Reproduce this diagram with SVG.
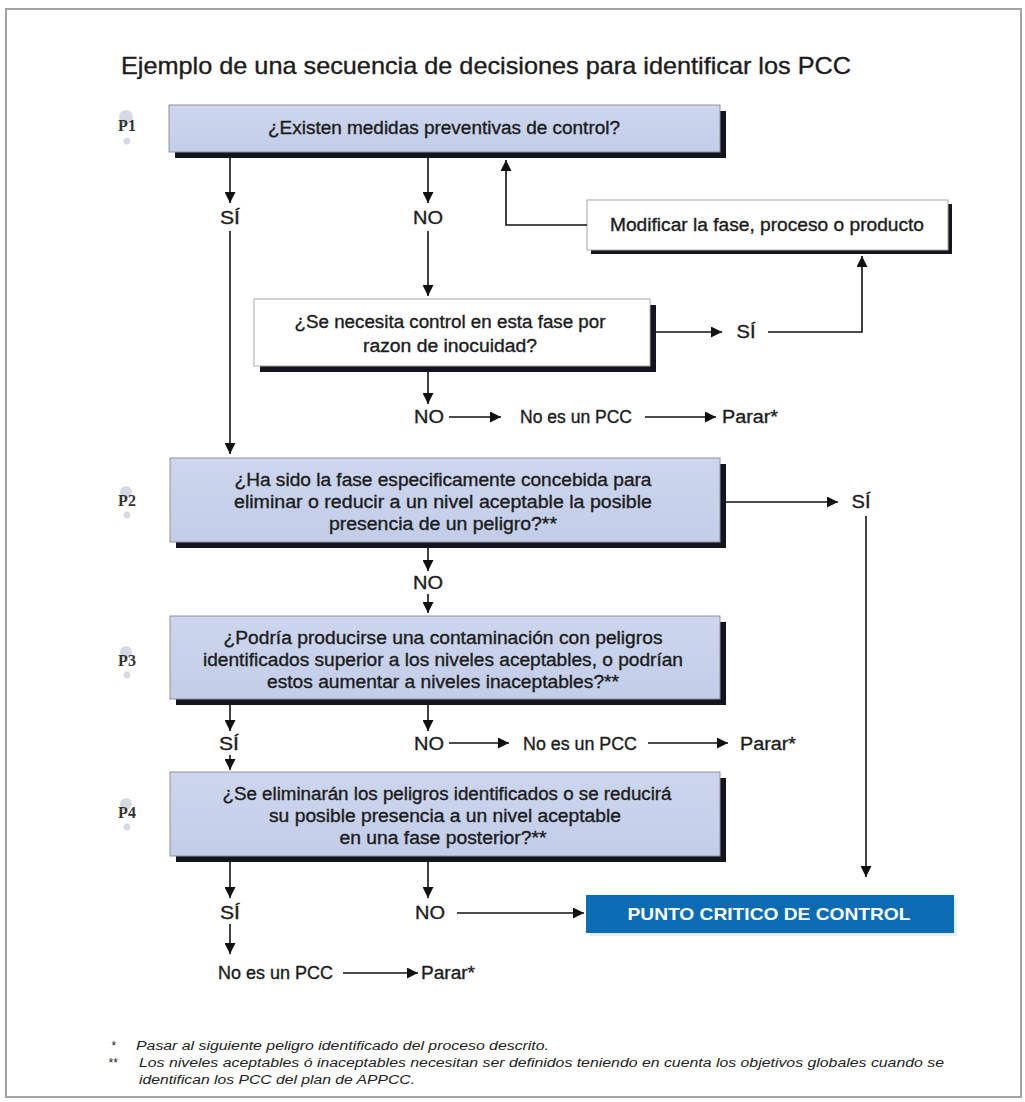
<svg xmlns="http://www.w3.org/2000/svg" width="1025" height="1102" viewBox="0 0 1025 1102">
<defs>
<marker id="ah" viewBox="0 0 10 10" refX="10" refY="5" markerWidth="11" markerHeight="11" markerUnits="userSpaceOnUse" orient="auto"><path d="M0,0 L10,5 L0,10 z" fill="#111"/></marker>
<linearGradient id="blue" x1="0" y1="0" x2="0" y2="1"><stop offset="0" stop-color="#cdd6ee"/><stop offset="1" stop-color="#c2cde8"/></linearGradient>
</defs>
<style>
.t{font-family:"Liberation Sans",Arial,sans-serif;fill:#1c1c1c;stroke:#1c1c1c;stroke-width:0.35;font-size:18px}
.c{text-anchor:middle}
.lbl{font-family:"Liberation Serif","Times New Roman",serif;font-weight:bold;font-size:16px;fill:#333}
.q{fill:url(#blue);stroke:#8e939c;stroke-width:1}
.w{fill:#fff;stroke:#a8a8a8;stroke-width:1}
.sh{fill:#15151c}
.ln{stroke:#111;stroke-width:1.6;fill:none}
.ar{marker-end:url(#ah)}
.fn{font-family:"Liberation Sans",Arial,sans-serif;font-style:italic;font-size:12px;fill:#222}
.dot{fill:#d6dae4}
</style>
<rect x="6" y="9" width="1015" height="1088" fill="#fff" stroke="#a3a3a3" stroke-width="2"/>
<text class="t" x="121" y="74" style="font-size:24px" textLength="730" lengthAdjust="spacingAndGlyphs">Ejemplo de una secuencia de decisiones para identificar los PCC</text>

<g id="labels">
<circle class="dot" cx="126" cy="117" r="7"/><circle class="dot" cx="127" cy="141" r="3.5"/>
<text class="lbl" x="127" y="131" text-anchor="middle">P1</text>
<circle class="dot" cx="126" cy="492" r="6"/><circle class="dot" cx="127" cy="515" r="3.5"/>
<text class="lbl" x="127" y="506" text-anchor="middle">P2</text>
<circle class="dot" cx="126" cy="652" r="6"/><circle class="dot" cx="127" cy="675" r="3.5"/>
<text class="lbl" x="127" y="666" text-anchor="middle">P3</text>
<circle class="dot" cx="126" cy="804" r="6"/><circle class="dot" cx="127" cy="827" r="3.5"/>
<text class="lbl" x="127" y="818" text-anchor="middle">P4</text>
</g>

<g id="p1">
<rect class="sh" x="175" y="111" width="551" height="47"/>
<rect class="q" x="169" y="105" width="551" height="47"/>
<text class="t c" x="444" y="134" textLength="352" lengthAdjust="spacingAndGlyphs">¿Existen medidas preventivas de control?</text>
</g>

<g id="modificar">
<rect class="sh" x="591" y="204" width="361" height="50"/>
<rect class="w" x="587" y="200" width="361" height="50"/>
<text class="t c" x="767" y="231" textLength="314" lengthAdjust="spacingAndGlyphs">Modificar la fase, proceso o producto</text>
</g>

<g id="q-inocuidad">
<rect class="sh" x="260" y="305" width="396" height="67"/>
<rect class="w" x="254" y="299" width="396" height="67"/>
<text class="t c" x="450" y="328" textLength="311" lengthAdjust="spacingAndGlyphs">¿Se necesita control en esta fase por</text>
<text class="t c" x="450" y="352" textLength="174" lengthAdjust="spacingAndGlyphs">razon de inocuidad?</text>
</g>

<g id="p2">
<rect class="sh" x="176" y="464" width="550" height="84"/>
<rect class="q" x="170" y="458" width="550" height="84"/>
<text class="t c" x="443" y="486" textLength="417" lengthAdjust="spacingAndGlyphs">¿Ha sido la fase especificamente concebida para</text>
<text class="t c" x="443" y="508" textLength="418" lengthAdjust="spacingAndGlyphs">eliminar o reducir a un nivel aceptable la posible</text>
<text class="t c" x="443" y="530" textLength="228" lengthAdjust="spacingAndGlyphs">presencia de un peligro?**</text>
</g>

<g id="p3">
<rect class="sh" x="176" y="622" width="550" height="83"/>
<rect class="q" x="170" y="616" width="550" height="83"/>
<text class="t c" x="443" y="644" textLength="439" lengthAdjust="spacingAndGlyphs">¿Podría producirse una contaminación con peligros</text>
<text class="t c" x="443" y="666" textLength="480" lengthAdjust="spacingAndGlyphs">identificados superior a los niveles aceptables, o podrían</text>
<text class="t c" x="443" y="688" textLength="352" lengthAdjust="spacingAndGlyphs">estos aumentar a niveles inaceptables?**</text>
</g>

<g id="p4">
<rect class="sh" x="176" y="778" width="550" height="84"/>
<rect class="q" x="170" y="772" width="550" height="84"/>
<text class="t c" x="447" y="800" textLength="449" lengthAdjust="spacingAndGlyphs">¿Se eliminarán los peligros identificados o se reducirá</text>
<text class="t c" x="445" y="822" textLength="352" lengthAdjust="spacingAndGlyphs">su posible presencia a un nivel aceptable</text>
<text class="t c" x="443" y="844" textLength="207" lengthAdjust="spacingAndGlyphs">en una fase posterior?**</text>
</g>

<g id="pcc">
<rect x="589" y="898" width="368" height="38" fill="#e6edf5"/>
<rect x="586" y="895" width="368" height="38" fill="#0b6cb4"/>
<text class="t c" x="769" y="920" style="fill:#fff;stroke:none;font-weight:bold;font-size:17px" textLength="283" lengthAdjust="spacingAndGlyphs">PUNTO CRITICO DE CONTROL</text>
</g>

<g id="outcomes">
<text class="t c" x="230" y="224" textLength="20" lengthAdjust="spacingAndGlyphs">SÍ</text>
<text class="t c" x="428" y="224" textLength="30" lengthAdjust="spacingAndGlyphs">NO</text>
<text class="t c" x="746" y="338" textLength="19" lengthAdjust="spacingAndGlyphs">SÍ</text>
<text class="t c" x="429" y="423" textLength="30" lengthAdjust="spacingAndGlyphs">NO</text>
<text class="t" x="520" y="423" textLength="112" lengthAdjust="spacingAndGlyphs">No es un PCC</text>
<text class="t" x="722" y="423" textLength="56" lengthAdjust="spacingAndGlyphs">Parar*</text>
<text class="t c" x="861" y="508" textLength="19" lengthAdjust="spacingAndGlyphs">SÍ</text>
<text class="t c" x="428" y="589" textLength="30" lengthAdjust="spacingAndGlyphs">NO</text>
<text class="t c" x="229" y="750" textLength="20" lengthAdjust="spacingAndGlyphs">SÍ</text>
<text class="t c" x="429" y="750" textLength="30" lengthAdjust="spacingAndGlyphs">NO</text>
<text class="t" x="523" y="750" textLength="114" lengthAdjust="spacingAndGlyphs">No es un PCC</text>
<text class="t" x="740" y="750" textLength="56" lengthAdjust="spacingAndGlyphs">Parar*</text>
<text class="t c" x="230" y="919" textLength="20" lengthAdjust="spacingAndGlyphs">SÍ</text>
<text class="t c" x="430" y="919" textLength="30" lengthAdjust="spacingAndGlyphs">NO</text>
<text class="t" x="218" y="979" textLength="115" lengthAdjust="spacingAndGlyphs">No es un PCC</text>
<text class="t" x="421" y="979" textLength="54" lengthAdjust="spacingAndGlyphs">Parar*</text>
</g>

<g id="connectors">
<path class="ln ar" d="M230 158 V203"/>
<path class="ln ar" d="M230 231 V454"/>
<path class="ln ar" d="M428 158 V203"/>
<path class="ln ar" d="M428 231 V296"/>
<path class="ln ar" d="M587 225 H506 V160"/>
<path class="ln ar" d="M656 332 H722"/>
<path class="ln ar" d="M768 332 H862 V256"/>
<path class="ln ar" d="M428 372 V404"/>
<path class="ln ar" d="M449 417 H501"/>
<path class="ln ar" d="M645 417 H716"/>
<path class="ln ar" d="M726 502 H838"/>
<path class="ln ar" d="M866 516 V877"/>
<path class="ln ar" d="M428 548 V571"/>
<path class="ln ar" d="M428 594 V613"/>
<path class="ln ar" d="M230 705 V731"/>
<path class="ln ar" d="M230 755 V770"/>
<path class="ln ar" d="M428 705 V731"/>
<path class="ln ar" d="M449 743 H509"/>
<path class="ln ar" d="M648 743 H728"/>
<path class="ln ar" d="M230 862 V898"/>
<path class="ln ar" d="M230 924 V954"/>
<path class="ln ar" d="M428 862 V898"/>
<path class="ln ar" d="M457 913 H584"/>
<path class="ln ar" d="M343 973 H418"/>
</g>

<g id="footnotes">
<text class="fn" x="111" y="1050">*</text>
<text class="fn" x="136" y="1050" textLength="413" lengthAdjust="spacingAndGlyphs">Pasar al siguiente peligro identificado del proceso descrito.</text>
<text class="fn" x="108" y="1067">**</text>
<text class="fn" x="139" y="1067" textLength="805" lengthAdjust="spacingAndGlyphs">Los niveles aceptables ó inaceptables necesitan ser definidos teniendo en cuenta los objetivos globales cuando se</text>
<text class="fn" x="139" y="1084" textLength="276" lengthAdjust="spacingAndGlyphs">identifican los PCC del plan de APPCC.</text>
</g>
</svg>
